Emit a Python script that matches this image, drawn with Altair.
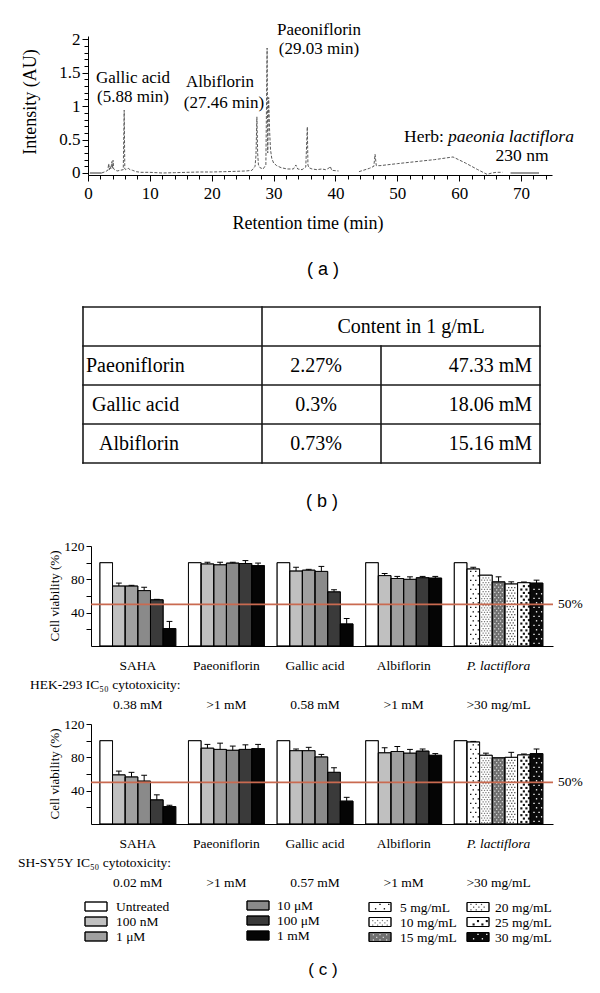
import altair as alt
import pandas as pd

SERIF = "Liberation Serif"
SANS = "Liberation Sans"

# ===================== data: (a) HPLC chromatogram =====================
rt_start = [0.3, 2.2]
au_start = [0.0, 0.0]
rt_main = [2.2, 2.8, 3.2, 3.35, 3.45, 3.55, 3.7, 3.85, 3.95, 4.05,
           4.15, 4.3, 4.7, 5.2, 5.7, 5.85, 5.95, 6.1, 6.5, 6.8,
           7.2, 7.8, 8.5, 10.0, 12.0, 14.0, 16.0, 18.0, 20.0, 22.0,
           24.0, 25.5, 26.5, 27.0, 27.15, 27.3, 27.42, 27.55, 27.8, 28.3,
           28.75, 28.95, 29.05, 29.2, 29.35, 29.5, 29.7, 30.0, 30.5, 31.2,
           32.2, 33.2, 33.6, 33.9, 34.6, 35.2, 35.45, 35.55, 35.7, 36.2,
           37.0, 37.8, 38.4, 38.9, 39.15, 39.4, 40.5]
au_main = [0.0, 0.02, 0.04, 0.14, 0.05, 0.10, 0.06, 0.17, 0.07, 0.19,
           0.06, 0.05, 0.03, 0.04, 0.05, 0.94, 0.06, 0.05, 0.07, 0.05,
           0.04, 0.02, 0.01, 0.01, 0.0, 0.005, 0.01, 0.015, 0.015, 0.02,
           0.025, 0.03, 0.04, 0.10, 0.26, 0.84, 0.30, 0.12, 0.08, 0.06,
           0.12, 1.87, 0.30, 1.13, 0.64, 0.35, 0.22, 0.15, 0.11, 0.08,
           0.06, 0.06, 0.12, 0.06, 0.05, 0.09, 0.69, 0.12, 0.08, 0.06,
           0.05, 0.06, 0.05, 0.07, 0.10, 0.04, 0.03]
rt_late = [43.8, 45.5, 46.2, 46.4, 46.6, 47.2, 50.0, 53.0, 56.0, 59.0,
           61.0, 63.0, 64.5, 65.3, 66.0, 67.0]
au_late = [0.02, 0.07, 0.10, 0.28, 0.11, 0.11, 0.14, 0.17, 0.20, 0.24,
           0.15, 0.05, -0.02, 0.0, 0.01, 0.01]
rt_end = [68.3, 72.9]
au_end = [0.0, 0.0]

peak_names = ["Gallic acid", "Albiflorin", "Paeoniflorin"]
peak_times = ["(5.88 min)", "(27.46 min)", "(29.03 min)"]
herb_prefix = "Herb:"
herb_name = "paeonia lactiflora"
wavelength = "230 nm"

# ===================== data: (b) content table =====================
tbl_header = "Content in 1 g/mL"
tbl_compounds = ["Paeoniflorin", "Gallic acid", "Albiflorin"]
tbl_percent = ["2.27%", "0.3%", "0.73%"]
tbl_mm = ["47.33 mM", "18.06 mM", "15.16 mM"]

# ===================== data: (c) cell viability =====================
groups = ["SAHA", "Paeoniflorin", "Gallic acid", "Albiflorin", "P. lactiflora"]
drug_doses = ["Untreated", "100 nM", "1 μM", "10 μM", "100 μM", "1 mM"]
herb_doses = ["Untreated", "5 mg/mL", "10 mg/mL", "15 mg/mL", "20 mg/mL", "25 mg/mL", "30 mg/mL"]

hek_mean = {
    "SAHA": [100, 72, 72, 66.5, 55.5, 21],
    "Paeoniflorin": [100, 98.5, 97.5, 99.5, 99, 96.5],
    "Gallic acid": [100, 90, 91, 89.5, 65, 26.5],
    "Albiflorin": [100, 84.5, 81, 80, 82, 81.5],
    "P. lactiflora": [100, 92.5, 85, 77, 74.5, 76, 75.5],
}
hek_err = {
    "SAHA": [0, 3.5, 0.8, 4, 0.5, 8.5],
    "Paeoniflorin": [0, 2, 3, 1, 3.5, 3],
    "Gallic acid": [0, 4.5, 1, 6, 2.5, 6.5],
    "Albiflorin": [0, 2.5, 2.5, 3, 1.5, 2],
    "P. lactiflora": [0, 2, 0, 6, 2.5, 0.8, 3.5],
}
sh_mean = {
    "SAHA": [100, 59, 56.5, 51.5, 29, 21],
    "Paeoniflorin": [100, 91, 89.5, 88.5, 89.5, 90.5],
    "Gallic acid": [100, 88, 88, 80.5, 62, 27.5],
    "Albiflorin": [100, 85.5, 87, 85, 87.5, 82.5],
    "P. lactiflora": [100, 98.5, 82.5, 79.5, 80, 83, 84.5],
}
sh_err = {
    "SAHA": [0, 4.5, 5.5, 7, 6, 1.5],
    "Paeoniflorin": [0, 4.5, 7.5, 5, 5.5, 5],
    "Gallic acid": [0, 2, 4, 3, 5.5, 4.5],
    "Albiflorin": [0, 6, 6, 4.5, 2.5, 2],
    "P. lactiflora": [0, 0.6, 2.5, 0, 6, 1, 5.5],
}
hek_label = "HEK-293 IC₅₀ cytotoxicity:"
sh_label = "SH-SY5Y IC₅₀ cytotoxicity:"
hek_ic50 = ["0.38 mM", ">1 mM", "0.58 mM", ">1 mM", ">30 mg/mL"]
sh_ic50 = ["0.02 mM", ">1 mM", "0.57 mM", ">1 mM", ">30 mg/mL"]
threshold = 50

# ===================== styles =====================
dose_keys = drug_doses + herb_doses[1:]
dose_fill = ["#ffffff", "#c0c0c0", "#a0a0a0", "#8a8a8a", "#3a3a3a", "#050505",
             "#ffffff", "#ffffff", "#707070", "#ffffff", "#ffffff", "#0a0a0a"]
fill_scale = alt.Scale(domain=dose_keys, range=dose_fill)
# stipple textures of the extract bars: dot colour, dot area, column fractions, row step (px)
TEXTURE = {
    "5 mg/mL": ("#000000", 1.8, [0.3, 0.7], 4.5),
    "10 mg/mL": ("#7a7a7a", 1.5, [0.17, 0.39, 0.61, 0.83], 2.3),
    "15 mg/mL": ("#d8d8d8", 1.6, [0.2, 0.5, 0.8], 2.6),
    "20 mg/mL": ("#4a4a4a", 1.6, [0.18, 0.42, 0.66], 2.7),
    "25 mg/mL": ("#111111", 4.5, [0.3, 0.7], 3.4),
    "30 mg/mL": ("#ffffff", 1.8, [0.3, 0.7], 4.5),
}
RED = "#c96a50"
LEFT = -83            # common left edge of every panel (page x = 8)


def anchor(left, top, bottom):
    """invisible rule fixing each panel's outer bounds inside the vconcat"""
    return alt.Chart(pd.DataFrame({"k": [0]})).mark_rule(opacity=0, strokeOpacity=0).encode(
        x=alt.value(left), y=alt.value(top), y2=alt.value(bottom))


def txt(df, size, align="center", font=SERIF, style="normal", angle=0, color="black"):
    return alt.Chart(df).mark_text(fontSize=size, align=align, baseline="middle", font=font,
                                   fontStyle=style, angle=angle, color=color)


def stipple(key, x0, x1, y0, y1, y_step):
    """dots filling a rectangle (x0..x1, y0..y1) for a textured key"""
    if key not in TEXTURE:
        return []
    col, area, fr, step_px = TEXTURE[key]
    step = step_px * y_step
    shift = (fr[1] - fr[0]) / 2 if len(fr) > 1 else 0
    out = []
    k = 0
    y = y0 + step * 0.6
    while y < y1 - step * 0.4:
        for f in fr:
            ff = f + (shift if k % 2 else 0)
            if ff < 0.92:
                out.append(dict(dx=x0 + (x1 - x0) * ff, dy=y, dc=col, ds=area))
        y += step
        k += 1
    return out


# ===================== panel (a) =====================
A_W, A_H = 461, 139
trace = pd.concat([
    pd.DataFrame({"t": rt_start, "v": au_start, "seg": "s0", "kind": "flat"}),
    pd.DataFrame({"t": rt_main, "v": au_main, "seg": "s1", "kind": "trace"}),
    pd.DataFrame({"t": rt_late, "v": au_late, "seg": "s2", "kind": "trace"}),
    pd.DataFrame({"t": rt_end, "v": au_end, "seg": "s3", "kind": "flat"}),
], ignore_index=True)

xsA = alt.Scale(domain=[0, 75], range=[-3, A_W], nice=False, zero=False)
ysA = alt.Scale(domain=[-0.03, 2.05], nice=False, zero=False)
x_major = "datum.value % 10 == 0"
y_major = "abs(datum.value * 2 - round(datum.value * 2)) < 0.001"
xaxA = alt.Axis(values=list(range(0, 75, 2)), labelExpr=f"{x_major} ? datum.label : ''",
                tickSize={"condition": {"test": x_major, "value": 6}, "value": 4},
                title=None, grid=False, labelFontSize=17, labelPadding=4,
                labelOverlap=False, labelFlush=False)
yaxA = alt.Axis(values=[round(i * 0.1, 1) for i in range(21)], format="~g",
                labelExpr=f"{y_major} ? datum.label : ''",
                tickSize={"condition": {"test": y_major, "value": 6}, "value": 4},
                title=None, grid=False, labelFontSize=17, labelPadding=2, labelOverlap=False,
                offset=3)

trace_line = alt.Chart(trace).transform_filter("datum.kind == 'trace'").mark_line(
    color="#5a5a5a", strokeWidth=1, strokeDash=[3, 1.6]).encode(
    x=alt.X("t:Q", scale=xsA, axis=xaxA), y=alt.Y("v:Q", scale=ysA, axis=yaxA), detail="seg:N")
flat_line = alt.Chart(trace).transform_filter("datum.kind == 'flat'").mark_line(
    color="#9a9a9a", strokeWidth=2).encode(
    x=alt.X("t:Q", scale=xsA, axis=xaxA), y=alt.Y("v:Q", scale=ysA, axis=yaxA), detail="seg:N")

peak_df = pd.DataFrame({
    "label": peak_names + peak_times,
    "px": [42, 129, 228, 42, 133, 228],
    "py": [42, 46, -6, 61, 67, 13],
})
peak_text = txt(peak_df, 17).encode(x=alt.X("px:Q", scale=None), y=alt.Y("py:Q", scale=None),
                                    text="label:N")
herb_a = txt(pd.DataFrame({"s": [herb_prefix]}), 17.5, align="left").encode(
    x=alt.value(313), y=alt.value(101), text="s:N")
herb_b = txt(pd.DataFrame({"s": [herb_name]}), 17.5, align="left", style="italic").encode(
    x=alt.value(357), y=alt.value(101), text="s:N")
wl_text = txt(pd.DataFrame({"s": [wavelength]}), 17.5).encode(
    x=alt.value(431), y=alt.value(120), text="s:N")
a_ytitle = txt(pd.DataFrame({"s": ["Intensity (AU)"]}), 18, angle=270).encode(
    x=alt.value(-60), y=alt.value(66), text="s:N")
a_xtitle = txt(pd.DataFrame({"s": ["Retention time (min)"]}), 18).encode(
    x=alt.value(217), y=alt.value(188), text="s:N")
a_tag = txt(pd.DataFrame({"s": ["( a )"]}), 18, font=SANS).encode(
    x=alt.value(232), y=alt.value(234), text="s:N")

panel_a = alt.layer(anchor(LEFT, -28, 249), trace_line, flat_line, peak_text, herb_a, herb_b,
                    wl_text, a_ytitle, a_xtitle, a_tag).properties(width=A_W, height=A_H)

# ===================== panel (b) =====================
T_W, T_H = 449, 156
row_scale = alt.Scale(domain=[0, 4], reverse=True, nice=False, zero=False)
col_edges = [-8, 171, 290, 449]
hl = alt.Chart(pd.DataFrame({"r": [0, 1, 2, 3, 4]})).mark_rule(
    color="#1a1a1a", strokeWidth=1.6, strokeCap="square").encode(
    y=alt.Y("r:Q", scale=row_scale, axis=None), x=alt.value(col_edges[0]), x2=alt.value(col_edges[-1]))
vl = alt.Chart(pd.DataFrame({"px": col_edges, "r0": [0, 0, 1, 0], "r1": [4, 4, 4, 4]})).mark_rule(
    color="#1a1a1a", strokeWidth=1.6, strokeCap="square").encode(
    x=alt.X("px:Q", scale=None), y=alt.Y("r0:Q", scale=row_scale, axis=None), y2="r1:Q")
n = len(tbl_compounds)
body = pd.DataFrame({"compound": tbl_compounds, "pct": tbl_percent, "mm": tbl_mm,
                     "r": [i + 1.5 for i in range(n)], "indent": [-5, 1, 8]})
t_head = txt(pd.DataFrame({"s": [tbl_header], "r": [0.5]}), 20).encode(
    x=alt.value(320), y=alt.Y("r:Q", scale=row_scale, axis=None), text="s:N")
t_comp = txt(body, 20, align="left").encode(
    x=alt.X("indent:Q", scale=None), y=alt.Y("r:Q", scale=row_scale, axis=None), text="compound:N")
t_pct = txt(body, 20).encode(
    x=alt.value(225), y=alt.Y("r:Q", scale=row_scale, axis=None), text="pct:N")
t_mm = txt(body, 20, align="right").encode(
    x=alt.value(441), y=alt.Y("r:Q", scale=row_scale, axis=None), text="mm:N")
b_tag = txt(pd.DataFrame({"s": ["( b )"]}), 18, font=SANS).encode(
    x=alt.value(231), y=alt.value(195), text="s:N")
panel_b = alt.layer(anchor(LEFT, -22, 208), hl, vl, t_head, t_comp, t_pct, t_mm, b_tag).properties(
    width=T_W, height=T_H)

# ===================== panels (c) =====================
C_W, C_H = 462, 100
SLOT = 7
YPX = 120 / C_H       # value units per pixel
xsC = alt.Scale(domain=[-0.7, 35.8], nice=False, zero=False)
ysC = alt.Scale(domain=[0, 120], nice=False, zero=False)
xaxC = alt.Axis(labels=False, ticks=False, title=None, grid=False)
yaxC = alt.Axis(values=[20, 40, 60, 80, 100, 120], labelExpr="datum.value % 40 == 0 ? datum.label : ''",
                title=None, grid=False, tickSize=5, labelFontSize=13.5, labelPadding=2,
                labelOverlap=False)


def XC(f):
    return alt.X(f, type="quantitative", scale=xsC, axis=xaxC)


def YC(f):
    return alt.Y(f, type="quantitative", scale=ysC, axis=yaxC)


def bar_frame(means, errs):
    rows = []
    for g, name in enumerate(groups):
        keys = herb_doses if name == "P. lactiflora" else drug_doses
        for i, (m, e) in enumerate(zip(means[name], errs[name])):
            p = g * SLOT + i
            rows.append(dict(group=name, key=keys[i], x0=p, x1=p + 1, xc=p + 0.5,
                             cl=p + 0.27, cr=p + 0.73, v=m, top=m + e, err=e))
    return pd.DataFrame(rows)


def group_frame(ic50):
    rows = []
    for g, name in enumerate(groups):
        nb = len(hek_mean[name])
        rows.append(dict(group=name, center=g * SLOT + nb / 2, ic50=ic50[g],
                         italic=name == "P. lactiflora"))
    return pd.DataFrame(rows)


def viability_panel(means, errs, ic50, line_label, label_x, top, bottom):
    df = bar_frame(means, errs)
    gdf = group_frame(ic50)
    dots = []
    for r in df.itertuples():
        dots += stipple(r.key, r.x0, r.x1, 0, r.v, YPX)
    dots = pd.DataFrame(dots)
    bars = alt.Chart(df).mark_rect(stroke="black", strokeWidth=0.8).encode(
        x=XC("x0"), x2="x1:Q", y=YC("v"), y2=alt.Y2Datum(0),
        fill=alt.Fill("key:N", scale=fill_scale, legend=None))
    tex = alt.Chart(dots).mark_square(opacity=1, strokeWidth=0).encode(
        x=XC("dx"), y=YC("dy"), color=alt.Color("dc:N", scale=None), size=alt.Size("ds:Q", scale=None))
    outline = alt.Chart(df).mark_rect(stroke="black", strokeWidth=0.8, fillOpacity=0).encode(
        x=XC("x0"), x2="x1:Q", y=YC("v"), y2=alt.Y2Datum(0))
    ebar = alt.Chart(df).transform_filter("datum.err > 0").mark_rule(color="black", strokeWidth=1).encode(
        x=XC("xc"), y=YC("v"), y2="top:Q")
    ecap = alt.Chart(df).transform_filter("datum.err > 0").mark_rule(color="black", strokeWidth=1).encode(
        x=XC("cl"), x2="cr:Q", y=YC("top"))
    red = alt.Chart(pd.DataFrame({"k": [0]})).mark_rule(color=RED, strokeWidth=1.7).encode(
        y=alt.YDatum(threshold, scale=ysC, axis=yaxC))
    pct = txt(pd.DataFrame({"s": [f"{threshold}%"]}), 13.5, align="left").encode(
        x=alt.value(C_W + 5), y=alt.YDatum(threshold, scale=ysC, axis=yaxC), text="s:N")
    glab = txt(gdf, 13.5).transform_filter("!datum.italic").encode(
        x=XC("center"), y=alt.value(C_H + 20), text="group:N")
    glab_i = txt(gdf, 13.5, style="italic").transform_filter("datum.italic").encode(
        x=XC("center"), y=alt.value(C_H + 20), text="group:N")
    cl = txt(pd.DataFrame({"s": [line_label]}), 13.5, align="left").encode(
        x=alt.value(label_x), y=alt.value(C_H + 39), text="s:N")
    ic = txt(gdf, 13.5).encode(x=XC("center"), y=alt.value(C_H + 59), text="ic50:N")
    ytitle = txt(pd.DataFrame({"s": ["Cell viability (%)"]}), 13, angle=270).encode(
        x=alt.value(-36), y=alt.value(C_H / 2), text="s:N")
    return alt.layer(anchor(LEFT, top, bottom), bars, tex, outline, ebar, ecap, red, pct, glab,
                     glab_i, cl, ic, ytitle).properties(width=C_W, height=C_H)


panel_c1 = viability_panel(hek_mean, hek_err, hek_ic50, hek_label, -61, -31, 168)
panel_c2 = viability_panel(sh_mean, sh_err, sh_ic50, sh_label, -73, -10, 166)

# ===================== legend + (c) tag =====================
L_W, L_H = 470, 88
leg_cols_sx = [-6, 156, 278, 376]     # swatch left edge per column
leg_cols_tx = [25, 186, 309, 404]     # label left edge per column
leg_cols_y = [16.5, 15.5, 17, 17]     # first row centre per column
leg_rows = []
leg_dots = []
for j, key in enumerate(dose_keys):
    c, r = j // 3, j % 3
    cy = leg_cols_y[c] + 15 * r
    sx, sy = leg_cols_sx[c], cy - 4.5
    leg_rows.append(dict(key=key, sx=sx, sx2=sx + 22, sy=sy, sy2=sy + 9,
                         tx=leg_cols_tx[c], ty=cy + 0.5))
    # swatch texture (pixel space: y grows downward, so build upward from the bottom)
    for d in stipple(key, sx, sx + 22, 0, 9, 1.0):
        d["dy"] = sy + 9 - d["dy"]
        leg_dots.append(d)
leg_df = pd.DataFrame(leg_rows)
leg_dots = pd.DataFrame(leg_dots)
sw = alt.Chart(leg_df).mark_rect(stroke="black", strokeWidth=0.9).encode(
    x=alt.X("sx:Q", scale=None), x2="sx2:Q", y=alt.Y("sy:Q", scale=None), y2="sy2:Q",
    fill=alt.Fill("key:N", scale=fill_scale, legend=None))
sw_tex = alt.Chart(leg_dots).mark_square(opacity=1, strokeWidth=0).encode(
    x=alt.X("dx:Q", scale=None), y=alt.Y("dy:Q", scale=None),
    color=alt.Color("dc:N", scale=None), size=alt.Size("ds:Q", scale=None))
sw_out = alt.Chart(leg_df).mark_rect(stroke="black", strokeWidth=0.9, fillOpacity=0).encode(
    x=alt.X("sx:Q", scale=None), x2="sx2:Q", y=alt.Y("sy:Q", scale=None), y2="sy2:Q")
lt = txt(leg_df, 13.5, align="left").encode(
    x=alt.X("tx:Q", scale=None), y=alt.Y("ty:Q", scale=None), text="key:N")
c_tag = txt(pd.DataFrame({"s": ["( c )"]}), 17, font=SANS).encode(
    x=alt.value(232), y=alt.value(80), text="s:N")
panel_d = alt.layer(anchor(LEFT, 0, L_H), sw, sw_tex, sw_out, lt, c_tag).properties(
    width=L_W, height=L_H)

chart = alt.vconcat(panel_a, panel_b, panel_c1, panel_c2, panel_d, spacing=0).properties(
    padding=0
).configure(font=SERIF).configure_view(stroke=None).configure_axis(
    domainColor="black", tickColor="black", labelColor="black", domainWidth=1, tickWidth=1,
    labelFont=SERIF
)

chart.save("out.html", embed_options={"renderer": "svg", "actions": False})
